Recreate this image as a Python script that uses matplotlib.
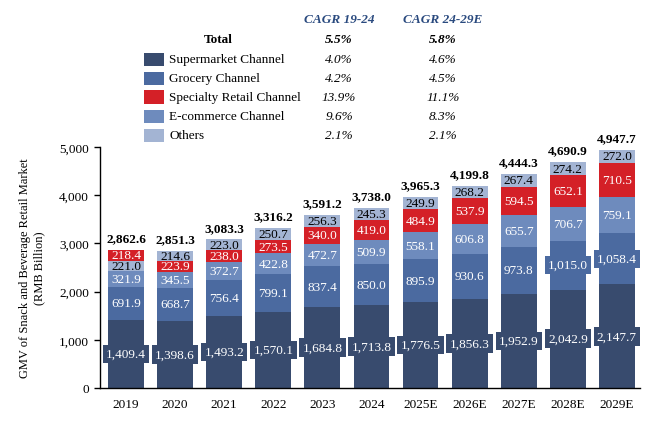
import matplotlib
matplotlib.use("Agg")
import matplotlib.pyplot as plt
from matplotlib.patches import Rectangle

plt.rcParams['font.family'] = ['Liberation Serif', 'DejaVu Serif']

years = ["2019", "2020", "2021", "2022", "2023", "2024", "2025E", "2026E", "2027E", "2028E", "2029E"]
supermarket = [1409.4, 1398.6, 1493.2, 1570.1, 1684.8, 1713.8, 1776.5, 1856.3, 1952.9, 2042.9, 2147.7]
grocery = [691.9, 668.7, 756.4, 799.1, 837.4, 850.0, 895.9, 930.6, 973.8, 1015.0, 1058.4]
ecommerce = [321.9, 345.5, 372.7, 422.8, 472.7, 509.9, 558.1, 606.8, 655.7, 706.7, 759.1]
specialty = [218.4, 223.9, 238.0, 273.5, 340.0, 419.0, 484.9, 537.9, 594.5, 652.1, 710.5]
others = [221.0, 214.6, 223.0, 250.7, 256.3, 245.3, 249.9, 268.2, 267.4, 274.2, 272.0]
totals = [2862.6, 2851.3, 3083.3, 3316.2, 3591.2, 3738.0, 3965.3, 4199.8, 4444.3, 4690.9, 4947.7]

series_names = ["Supermarket Channel", "Grocery Channel", "Specialty Retail Channel", "E-commerce Channel", "Others"]
cagr_19_24 = ["4.0%", "4.2%", "13.9%", "9.6%", "2.1%"]
cagr_24_29 = ["4.6%", "4.5%", "11.1%", "8.3%", "2.1%"]
total_cagr = ["5.5%", "5.8%"]

colors = {
    "Supermarket Channel": "#384b6e",
    "Grocery Channel": "#4b6aa0",
    "Specialty Retail Channel": "#d42027",
    "E-commerce Channel": "#6e8bbd",
    "Others": "#a3b4d3",
}
text_colors = {
    "Supermarket Channel": "white",
    "Grocery Channel": "white",
    "Specialty Retail Channel": "white",
    "E-commerce Channel": "white",
    "Others": "black",
}
values = {
    "Supermarket Channel": supermarket,
    "Grocery Channel": grocery,
    "Specialty Retail Channel": specialty,
    "E-commerce Channel": ecommerce,
    "Others": others,
}
default_order = ["Supermarket Channel", "Grocery Channel", "E-commerce Channel", "Specialty Retail Channel", "Others"]
order_2019 = ["Supermarket Channel", "Grocery Channel", "E-commerce Channel", "Others", "Specialty Retail Channel"]

W, H = 662, 427
fig = plt.figure(figsize=(W / 100, H / 100), dpi=100)
ax = fig.add_axes([100 / W, 1 - 389 / H, 540 / W, 241 / H])

fs = 9.5
width = 0.73
for i, yr in enumerate(years):
    order = order_2019 if i == 0 else default_order
    bottom = 0.0
    for name in order:
        v = values[name][i]
        ax.bar(i, v, width=width, bottom=bottom, color=colors[name], edgecolor="none", zorder=2)
        lbl = f"{v:,.1f}"
        kw = {}
        if v >= 1000:
            kw["bbox"] = dict(boxstyle="square,pad=0.25", facecolor=colors[name], edgecolor="none")
        ax.text(i, bottom + v / 2, lbl, ha="center", va="center", fontsize=fs,
                color=text_colors[name], zorder=3, **kw)
        bottom += v
    ax.annotate(f"{totals[i]:,.1f}", (i, bottom), xytext=(0, 4), textcoords="offset points",
                ha="center", va="bottom", fontsize=fs, fontweight="bold")

ax.set_xlim(-0.53, 10.47)
ax.set_ylim(0, 5000)
ax.set_yticks([0, 1000, 2000, 3000, 4000, 5000])
ax.set_yticklabels([f"{t:,}" for t in [0, 1000, 2000, 3000, 4000, 5000]], fontsize=fs)
ax.set_xticks(range(len(years)))
ax.set_xticklabels(years, fontsize=fs)
ax.tick_params(axis="x", length=0, pad=7)
ax.tick_params(axis="y", length=4, width=1, direction="out", pad=4)
for s in ["top", "right"]:
    ax.spines[s].set_visible(False)
for s in ["left", "bottom"]:
    ax.spines[s].set_linewidth(1)
ax.set_ylabel("GMV of Snack and Beverage Retail Market\n(RMB Billion)", fontsize=9, labelpad=10)

# Legend table
def fx(px):
    return px / W

def fy(py):
    return 1 - py / H

hdr_color = "#2a4a7f"
col1, col2 = 339, 443
fig.text(fx(col1), fy(20), "CAGR 19-24", ha="center", va="center", fontsize=fs,
         fontweight="bold", style="italic", color=hdr_color)
fig.text(fx(col2), fy(20), "CAGR 24-29E", ha="center", va="center", fontsize=fs,
         fontweight="bold", style="italic", color=hdr_color)
fig.text(fx(218), fy(40), "Total", ha="center", va="center", fontsize=fs, fontweight="bold")
fig.text(fx(col1), fy(40), total_cagr[0], ha="center", va="center", fontsize=fs,
         fontweight="bold", style="italic")
fig.text(fx(col2), fy(40), total_cagr[1], ha="center", va="center", fontsize=fs,
         fontweight="bold", style="italic")
row_y = [60, 79, 98, 117, 136]
for name, a, b, yy in zip(series_names, cagr_19_24, cagr_24_29, row_y):
    fig.patches.append(Rectangle((fx(144), fy(yy + 6.5)), 20 / W, 13 / H,
                                 transform=fig.transFigure, facecolor=colors[name], edgecolor="none"))
    fig.text(fx(169), fy(yy), name, ha="left", va="center", fontsize=fs)
    fig.text(fx(col1), fy(yy), a, ha="center", va="center", fontsize=fs, style="italic")
    fig.text(fx(col2), fy(yy), b, ha="center", va="center", fontsize=fs, style="italic")

fig.savefig("out.png", dpi=100)
